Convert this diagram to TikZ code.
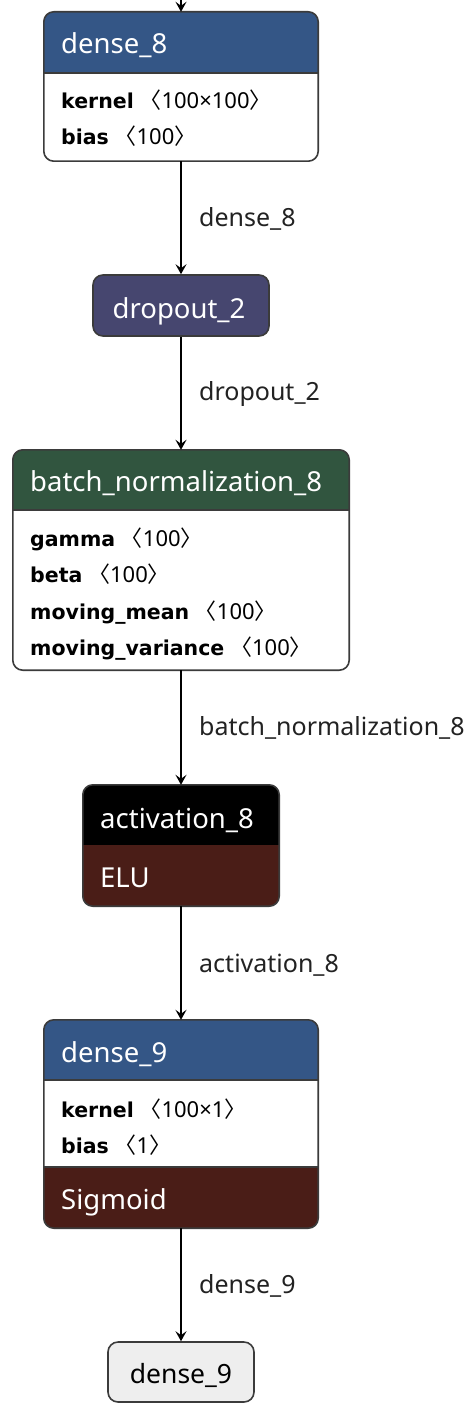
\documentclass[tikz,border=0pt]{standalone}
\usepackage{fontspec}
\setmainfont{Noto Sans}
\newfontfamily\cjk{Noto Sans CJK SC}
\newfontfamily\bfam{DejaVu Sans}
\usetikzlibrary{arrows.meta,calc}
\definecolor{hblue}{HTML}{345686}
\definecolor{hpurple}{HTML}{46466F}
\definecolor{hgreen}{HTML}{31553F}
\definecolor{hred}{HTML}{4A1D17}
\definecolor{bordc}{HTML}{3B3B3B}
\definecolor{outfill}{HTML}{EEEEEE}
\definecolor{labc}{HTML}{222222}
\newcommand{\angl}{{\cjk 〈}}
\newcommand{\angr}{{\cjk 〉}}
\newcommand{\pname}[1]{{\bfam\bfseries\fontsize{20.5}{24}\selectfont #1}}
\tikzset{
 boxbase/.style={rectangle, rounded corners=10pt, inner sep=0pt, fill=white},
 outline/.style={draw=bordc, line width=1.6pt, rounded corners=10pt},
 sepline/.style={draw=bordc, line width=1.2pt},
 hdr/.style={text=white, anchor=base west, font=\fontsize{27.5}{32}\selectfont, inner sep=0pt},
 attr/.style={anchor=base west, font=\fontsize{22}{26}\selectfont, inner sep=0pt, text=black},
 elabel/.style={anchor=base west, font=\fontsize{25}{29}\selectfont, inner sep=0pt, text=labc},
 conn/.style={draw=black, line width=1.8pt, -{Stealth[length=10pt,width=11pt,inset=4pt]}},
}
\begin{document}
\begin{tikzpicture}[x=1pt,y=1pt]
\useasboundingbox (0,0) rectangle (473,-1404);
\fill[white] (0,0) rectangle (473,-1404);

% ---------- dense_8 ----------
\node[boxbase, minimum width=274pt, minimum height=149pt] (d8) at (181,-86.5) {};
\begin{scope}
\clip[rounded corners=10pt] (d8.north west) rectangle (d8.south east);
\fill[hblue] (d8.north west) rectangle (318,-73);
\end{scope}
\draw[sepline] (44,-73) -- (318,-73);
\draw[outline] (d8.north west) rectangle (d8.south east);
\node[hdr] (d8h) at (61,-54) {dense\_8};
\node[attr] (d8a) at (61,-109) {\pname{kernel} \angl100×100\angr};
\node[attr] (d8b) at (61,-145) {\pname{bias} \angl100\angr};

% ---------- dropout_2 ----------
\node[rectangle, rounded corners=10pt, draw=bordc, line width=1.6pt, fill=hpurple,
      minimum width=176pt, minimum height=61pt, inner sep=0pt] (dp) at (181,-305.5) {};
\node[hdr, anchor=base] (dph) at (179,-318) {dropout\_2};

% ---------- batch_normalization_8 ----------
\node[boxbase, minimum width=336pt, minimum height=220pt] (bn) at (181,-560) {};
\begin{scope}
\clip[rounded corners=10pt] (bn.north west) rectangle (bn.south east);
\fill[hgreen] (bn.north west) rectangle (349,-510);
\end{scope}
\draw[sepline] (13,-510) -- (349,-510);
\draw[outline] (bn.north west) rectangle (bn.south east);
\node[hdr] (bnh) at (30,-491) {batch\_normalization\_8};
\node[attr] (bna) at (30,-546) {\pname{gamma} \angl100\angr};
\node[attr] (bnb) at (30,-582) {\pname{beta} \angl100\angr};
\node[attr] (bnc) at (30,-619) {\pname{moving\_mean} \angl100\angr};
\node[attr] (bnd) at (30,-655) {\pname{moving\_variance} \angl100\angr};

% ---------- activation_8 ----------
\node[boxbase, minimum width=196pt, minimum height=121pt] (ac) at (181,-845.5) {};
\begin{scope}
\clip[rounded corners=10pt] (ac.north west) rectangle (ac.south east);
\fill[black] (ac.north west) rectangle (279,-845);
\fill[hred] (83,-845) rectangle (ac.south east);
\end{scope}
\draw[outline] (ac.north west) rectangle (ac.south east);
\node[hdr] (ach) at (100,-828) {activation\_8};
\node[hdr] (acf) at (100,-887) {ELU};

% ---------- dense_9 ----------
\node[boxbase, minimum width=274pt, minimum height=208pt] (d9) at (181,-1124) {};
\begin{scope}
\clip[rounded corners=10pt] (d9.north west) rectangle (d9.south east);
\fill[hblue] (d9.north west) rectangle (318,-1080);
\fill[hred] (44,-1167) rectangle (d9.south east);
\end{scope}
\draw[sepline] (44,-1080) -- (318,-1080);
\draw[sepline] (44,-1167) -- (318,-1167);
\draw[outline] (d9.north west) rectangle (d9.south east);
\node[hdr] (d9h) at (61,-1062) {dense\_9};
\node[attr] (d9a) at (61,-1117) {\pname{kernel} \angl100×1\angr};
\node[attr] (d9b) at (61,-1153) {\pname{bias} \angl1\angr};
\node[hdr] (d9f) at (61,-1209) {Sigmoid};

% ---------- output dense_9 ----------
\node[rectangle, rounded corners=10pt, draw=bordc, line width=1.6pt, fill=outfill,
      minimum width=146pt, minimum height=60pt, inner sep=0pt] (out) at (181,-1372) {};
\node[elabel, anchor=base, text=black, font=\fontsize{26.5}{30}\selectfont] (outt) at (181,-1383) {dense\_9};

% ---------- connectors ----------
\coordinate (top) at (181,0);
\draw[conn] (top) -- (d8.north);
\draw[conn] (d8.south) -- (dp.north);
\draw[conn] (dp.south) -- (bn.north);
\draw[conn] (bn.south) -- (ac.north);
\draw[conn] (ac.south) -- (d9.north);
\draw[conn] (d9.south) -- (out.north);

% ---------- edge labels ----------
\node[elabel] (l1) at (199,-227) {dense\_8};
\node[elabel] (l2) at (199,-400) {dropout\_2};
\node[elabel] (l3) at (199,-735) {batch\_normalization\_8};
\node[elabel] (l4) at (199,-972) {activation\_8};
\node[elabel] (l5) at (199,-1293) {dense\_9};
\end{tikzpicture}
\end{document}
